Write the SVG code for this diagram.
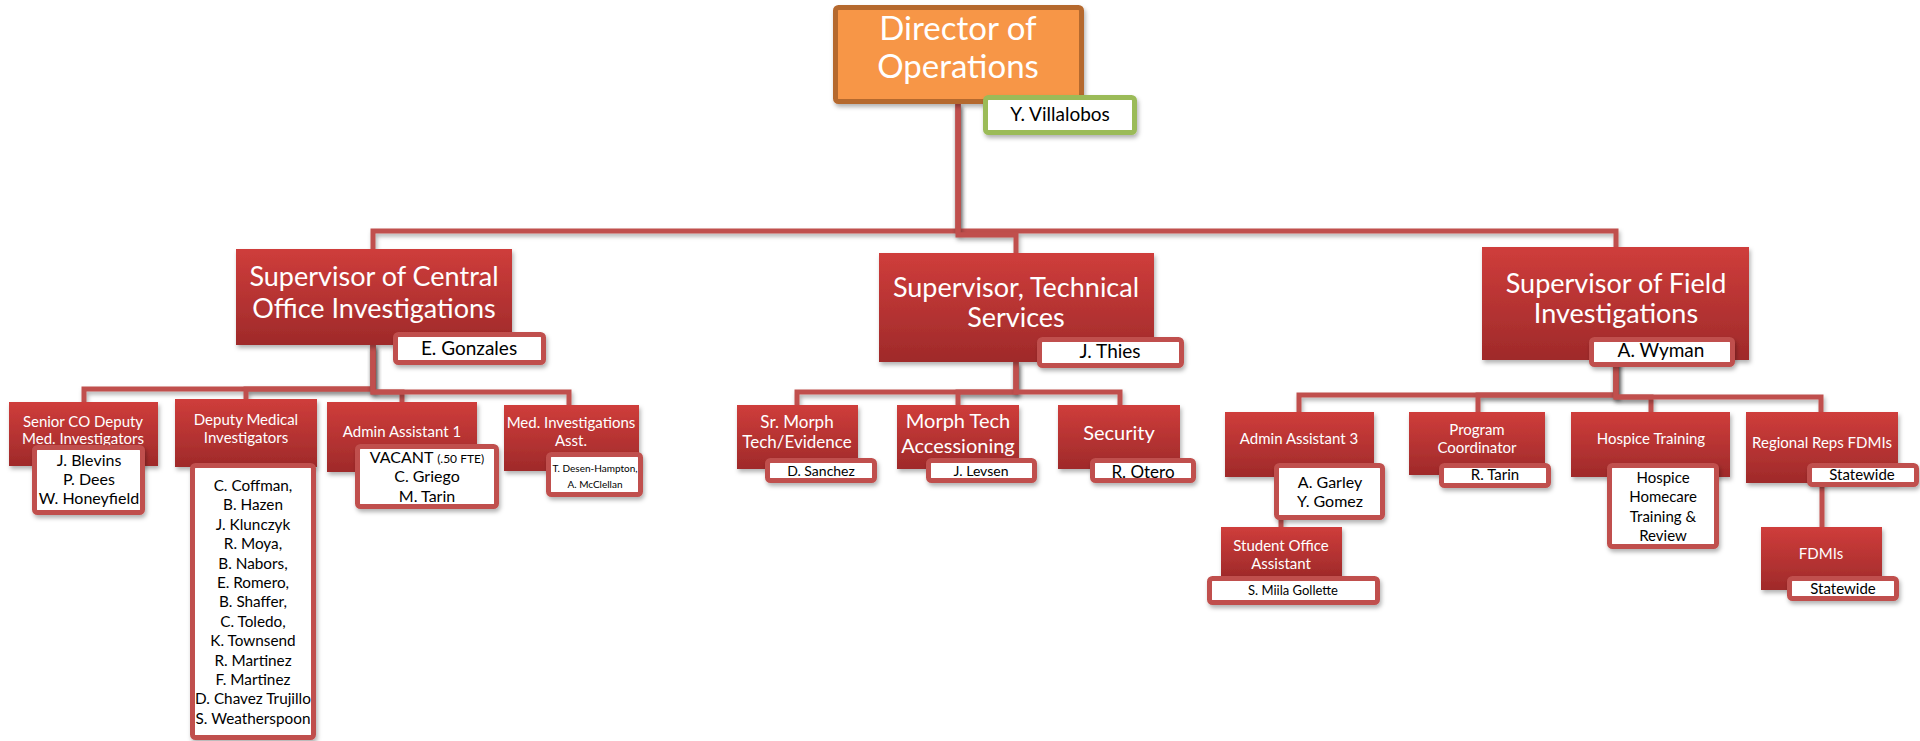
<svg xmlns="http://www.w3.org/2000/svg" width="1920" height="741" viewBox="0 0 1920 741">
<defs>
<linearGradient id="red" x1="0" y1="0" x2="0" y2="1">
<stop offset="0" stop-color="#cf3d3b"/>
<stop offset="1" stop-color="#9f2a2a"/>
</linearGradient>
<filter id="sh" filterUnits="userSpaceOnUse" x="0" y="0" width="1920" height="741">
<feDropShadow dx="1.5" dy="3" stdDeviation="2" flood-color="#000" flood-opacity="0.3"/>
</filter>
</defs>
<style>
.box{fill:url(#red);filter:url(#sh)}
.nm{fill:#fff;stroke:#c0504d;stroke-width:5;filter:url(#sh)}
.t{font-family:Lato,Carlito,"Liberation Sans",sans-serif;fill:#fff;text-anchor:middle}
.n{font-family:Lato,Carlito,"Liberation Sans",sans-serif;fill:#000;text-anchor:middle}
.c{fill:none;stroke:#c0504d;stroke-width:5;filter:url(#sh)}
</style>
<rect width="1920" height="741" fill="#fff"/>
<g id="connectors">
<path class="c" d="M958,104 V231 H373 V249"/>
<path class="c" d="M958,104 V231 H1616 V247"/>
<path class="c" d="M958,104 V235 H1016 V253"/>
<path class="c" d="M373,345 V389 H84 V402"/>
<path class="c" d="M373,345 V389 H246 V399"/>
<path class="c" d="M373,345 V392 H402 V402"/>
<path class="c" d="M373,345 V392 H569 V405"/>
<path class="c" d="M1016,362 V392 H797 V405"/>
<path class="c" d="M1016,362 V392 H958 V405"/>
<path class="c" d="M1016,362 V392 H1120 V405"/>
<path class="c" d="M1616,360 V395 H1299 V412"/>
<path class="c" d="M1616,360 V395 H1478 V412"/>
<path class="c" d="M1616,360 V397 H1651 V412"/>
<path class="c" d="M1616,360 V397 H1821 V412"/>
<path class="c" d="M1281,500 V527"/>
<path class="c" d="M1822,480 V527"/>
</g>
<g id="director">
<rect x="835.5" y="7.5" width="246" height="94" rx="3" fill="#f79646" stroke="#b5692f" stroke-width="5" filter="url(#sh)"/>
<text class="t" x="958" y="40" font-size="33">Director of</text>
<text class="t" x="958" y="78" font-size="33">Operations</text>
</g>
<g id="villalobos">
<rect x="985.5" y="97.5" width="149" height="35" rx="3" fill="#fff" stroke="#9bbb59" stroke-width="5" filter="url(#sh)"/>
<text class="n" x="1060" y="121" font-size="19">Y. Villalobos</text>
</g>
<g id="central">
<rect class="box" x="236" y="249" width="276" height="96"/>
<text class="t" x="374" y="286" font-size="27">Supervisor of Central</text>
<text class="t" x="374" y="318" font-size="27">Office Investigations</text>
<rect class="nm" x="395.5" y="334.5" width="148" height="28" rx="3"/>
<text class="n" x="469" y="355" font-size="19">E. Gonzales</text>
</g>
<g id="technical">
<rect class="box" x="879" y="253" width="275" height="109"/>
<text class="t" x="1016" y="297" font-size="27">Supervisor, Technical</text>
<text class="t" x="1016" y="327" font-size="27">Services</text>
<rect class="nm" x="1039.5" y="339.5" width="142" height="26" rx="3"/>
<text class="n" x="1110" y="358" font-size="19">J. Thies</text>
</g>
<g id="field">
<rect class="box" x="1482" y="247" width="267" height="113"/>
<text class="t" x="1616" y="293" font-size="27">Supervisor of Field</text>
<text class="t" x="1616" y="323" font-size="27">Investigations</text>
<rect class="nm" x="1591.5" y="339.5" width="141" height="25" rx="3"/>
<text class="n" x="1661" y="357" font-size="19">A. Wyman</text>
</g>
<g id="senior-co">
<rect class="box" x="9" y="402" width="149" height="64"/>
<text class="t" x="83" y="427" font-size="15">Senior CO Deputy</text>
<text class="t" x="83" y="444" font-size="15">Med. Investigators</text>
<rect class="nm" x="34.5" y="447.5" width="108" height="65" rx="3"/>
<text class="n" x="89" y="466" font-size="16">J. Blevins</text>
<text class="n" x="89" y="485" font-size="16">P. Dees</text>
<text class="n" x="89" y="504" font-size="16">W. Honeyfield</text>
</g>
<g id="deputy-medical">
<rect class="box" x="175" y="399" width="142" height="68"/>
<text class="t" x="246" y="425" font-size="15">Deputy Medical</text>
<text class="t" x="246" y="443" font-size="15">Investigators</text>
<rect class="nm" x="192.5" y="465.5" width="121" height="272" rx="3"/>
<g font-size="15.3">
<text class="n" x="253" y="491">C. Coffman,</text>
<text class="n" x="253" y="510.4">B. Hazen</text>
<text class="n" x="253" y="529.8">J. Klunczyk</text>
<text class="n" x="253" y="549.2">R. Moya,</text>
<text class="n" x="253" y="568.6">B. Nabors,</text>
<text class="n" x="253" y="588">E. Romero,</text>
<text class="n" x="253" y="607.4">B. Shaffer,</text>
<text class="n" x="253" y="626.8">C. Toledo,</text>
<text class="n" x="253" y="646.2">K. Townsend</text>
<text class="n" x="253" y="665.6">R. Martinez</text>
<text class="n" x="253" y="685">F. Martinez</text>
<text class="n" x="253" y="704.4">D. Chavez Trujillo</text>
<text class="n" x="253" y="723.8">S. Weatherspoon</text>
</g>
</g>
<g id="admin-1">
<rect class="box" x="327" y="402" width="150" height="70"/>
<text class="t" x="402" y="437" font-size="15">Admin Assistant 1</text>
<rect class="nm" x="357.5" y="446.5" width="139" height="60" rx="3"/>
<text class="n" x="427" y="463" font-size="16">VACANT <tspan font-size="12">(.50 FTE)</tspan></text>
<text class="n" x="427" y="482" font-size="16">C. Griego</text>
<text class="n" x="427" y="502" font-size="16">M. Tarin</text>
</g>
<g id="med-inv-asst">
<rect class="box" x="504" y="405" width="135" height="66"/>
<text class="t" x="571" y="428" font-size="15">Med. Investigations</text>
<text class="t" x="571" y="446" font-size="15">Asst.</text>
<rect class="nm" x="548.5" y="454.5" width="92" height="40" rx="3"/>
<text class="n" x="595" y="472" font-size="10">T. Desen-Hampton,</text>
<text class="n" x="595" y="488" font-size="10">A. McClellan</text>
</g>
<g id="sr-morph">
<rect class="box" x="737" y="405" width="121" height="64"/>
<text class="t" x="797" y="428" font-size="17">Sr. Morph</text>
<text class="t" x="797" y="448" font-size="17">Tech/Evidence</text>
<rect class="nm" x="767.5" y="460.5" width="107" height="20" rx="3"/>
<text class="n" x="821" y="476" font-size="14">D. Sanchez</text>
</g>
<g id="morph-tech">
<rect class="box" x="897" y="405" width="122" height="64"/>
<text class="t" x="958" y="428" font-size="20">Morph Tech</text>
<text class="t" x="958" y="453" font-size="20">Accessioning</text>
<rect class="nm" x="928.5" y="460.5" width="106" height="20" rx="3"/>
<text class="n" x="981" y="476" font-size="14">J. Levsen</text>
</g>
<g id="security">
<rect class="box" x="1058" y="405" width="122" height="64"/>
<text class="t" x="1119" y="440" font-size="20">Security</text>
<rect class="nm" x="1092.5" y="460.5" width="101" height="20" rx="3"/>
<text class="n" x="1143" y="478" font-size="17">R. Otero</text>
</g>
<g id="admin-3">
<rect class="box" x="1225" y="412" width="149" height="65"/>
<text class="t" x="1299" y="444" font-size="15">Admin Assistant 3</text>
<rect class="nm" x="1276.5" y="465.5" width="106" height="52" rx="3"/>
<text class="n" x="1330" y="488" font-size="16">A. Garley</text>
<text class="n" x="1330" y="507" font-size="16">Y. Gomez</text>
</g>
<g id="student">
<rect class="box" x="1221" y="527" width="121" height="50"/>
<text class="t" x="1281" y="551" font-size="15">Student Office</text>
<text class="t" x="1281" y="569" font-size="15">Assistant</text>
<rect class="nm" x="1209.5" y="578.5" width="168" height="24" rx="3"/>
<text class="n" x="1293" y="595" font-size="13">S. Miila Gollette</text>
</g>
<g id="program-coord">
<rect class="box" x="1409" y="412" width="136" height="63"/>
<text class="t" x="1477" y="435" font-size="15">Program</text>
<text class="t" x="1477" y="453" font-size="15">Coordinator</text>
<rect class="nm" x="1441.5" y="465.5" width="107" height="20" rx="3"/>
<text class="n" x="1495" y="480" font-size="15">R. Tarin</text>
</g>
<g id="hospice">
<rect class="box" x="1571" y="412" width="159" height="65"/>
<text class="t" x="1651" y="444" font-size="15">Hospice Training</text>
<rect class="nm" x="1609.5" y="465.5" width="107" height="81" rx="3"/>
<text class="n" x="1663" y="483" font-size="15">Hospice</text>
<text class="n" x="1663" y="502" font-size="15">Homecare</text>
<text class="n" x="1663" y="522" font-size="15">Training &amp;</text>
<text class="n" x="1663" y="541" font-size="15">Review</text>
</g>
<g id="regional">
<rect class="box" x="1746" y="412" width="152" height="71"/>
<text class="t" x="1822" y="448" font-size="15">Regional Reps FDMIs</text>
<rect class="nm" x="1809.5" y="465.5" width="107" height="19" rx="3"/>
<text class="n" x="1862" y="480" font-size="15">Statewide</text>
</g>
<g id="fdmis">
<rect class="box" x="1761" y="527" width="121" height="63"/>
<text class="t" x="1821" y="559" font-size="15">FDMIs</text>
<rect class="nm" x="1789.5" y="578.5" width="107" height="20" rx="3"/>
<text class="n" x="1843" y="594" font-size="15">Statewide</text>
</g>
</svg>
